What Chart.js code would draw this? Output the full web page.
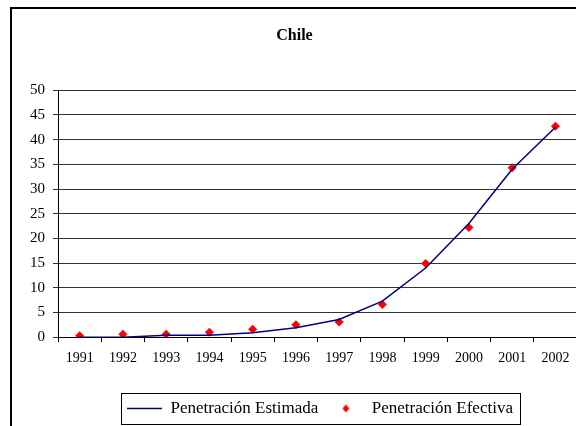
<!DOCTYPE html>
<html>
<head>
<meta charset="utf-8">
<script src="https://cdn.jsdelivr.net/npm/chart.js@4"></script>
<style>
  html, body { margin: 0; padding: 0; background: #fff; overflow: hidden; width: 576px; height: 426px; }
  #frame { position: absolute; left: 10px; top: 7px; width: 616px; height: 440px; border-left: 2px solid #000; border-top: 2px solid #000; }
  canvas { display: block; }
</style>
</head>
<body>
<div id="frame"><canvas id="chart" width="616" height="440"></canvas></div>
<script>
const years = ['1991','1992','1993','1994','1995','1996','1997','1998','1999','2000','2001','2002'];
const estimada = [0, 0, 0.4, 0.4, 0.9, 1.9, 3.6, 7.3, 14, 23, 34, 42.5];
const efectiva = [0.3, 0.6, 0.6, 1.0, 1.6, 2.5, 3.1, 6.6, 14.9, 22.2, 34.3, 42.7];

Chart.defaults.font.family = "'Liberation Serif', 'DejaVu Serif', serif";
Chart.defaults.font.size = 14;
Chart.defaults.color = '#000';

// small red diamond used as the legend symbol
const diamond = document.createElement('canvas');
diamond.width = 10; diamond.height = 10;
const dc = diamond.getContext('2d');
dc.fillStyle = '#ff0000';
dc.beginPath(); dc.moveTo(5,1); dc.lineTo(8.5,5); dc.lineTo(5,9); dc.lineTo(1.5,5); dc.closePath(); dc.fill();

// legend is centred on the whole canvas rather than the padded area, and gets a frame
const legendBox = {
  id: 'legendBox',
  afterUpdate(chart) {
    const l = chart.legend;
    const d = chart.width / 2 - (l.left + l.right) / 2;
    l.left += d; l.right += d;
    l.legendHitBoxes.forEach(b => { b.left += d; });
  },
  afterDraw(chart) {
    const boxes = chart.legend.legendHitBoxes;
    if (!boxes || !boxes.length) return;
    const left = Math.min(...boxes.map(b => b.left)) - 6;
    const right = Math.max(...boxes.map(b => b.left + b.width)) + 7;
    const mid = boxes[0].top + boxes[0].height / 2;
    const ctx = chart.ctx;
    ctx.save();
    ctx.strokeStyle = '#000';
    ctx.lineWidth = 1;
    ctx.strokeRect(Math.round(left) + 0.5, Math.round(mid - 16) + 0.5, Math.round(right - left), 31);
    ctx.restore();
  }
};

new Chart(document.getElementById('chart'), {
  type: 'line',
  data: {
    labels: years,
    datasets: [
      { label: 'Penetración Estimada', data: estimada, borderColor: '#000080', backgroundColor: '#000080',
        borderWidth: 1.5, pointRadius: 0, tension: 0, pointStyle: 'line' },
      { label: 'Penetración Efectiva', data: efectiva, showLine: false, pointStyle: 'rectRot',
        pointRadius: 4.5, borderWidth: 0, backgroundColor: '#ff0000', borderColor: '#ff0000' }
    ]
  },
  options: {
    responsive: false,
    animation: false,
    layout: { padding: { left: 0, right: 51, top: 0, bottom: 22 } },
    plugins: {
      title: { display: true, text: 'Chile', font: { size: 16, weight: 'bold' }, padding: { top: 17, bottom: 45 } },
      tooltip: { enabled: false },
      legend: {
        position: 'bottom',
        labels: {
          usePointStyle: true,
          pointStyleWidth: 35,
          padding: 10,
          font: { size: 17 },
          generateLabels(chart) {
            return chart.data.datasets.map((ds, i) => ({
              text: ds.label,
              datasetIndex: i,
              pointStyle: i === 0 ? 'line' : diamond,
              strokeStyle: '#000080',
              fillStyle: ds.backgroundColor,
              lineWidth: 1.5,
              fontColor: '#000'
            }));
          }
        }
      }
    },
    scales: {
      x: {
        offset: true,
        grid: { display: true, drawOnChartArea: false, drawTicks: true, tickLength: 5, color: '#000', offset: true },
        border: { color: '#000', width: 1 },
        ticks: { padding: 8, font: { size: 14 }, maxRotation: 0 },
        afterFit(scale) { scale.height += 15; }
      },
      y: {
        min: 0, max: 50,
        ticks: { stepSize: 5, padding: 8, font: { size: 15 } },
        grid: { color: '#333', lineWidth: 1, tickLength: 5 },
        border: { color: '#000', width: 1 },
        afterFit(scale) { scale.width = 46; }
      }
    }
  },
  plugins: [legendBox]
});
</script>
</body>
</html>
